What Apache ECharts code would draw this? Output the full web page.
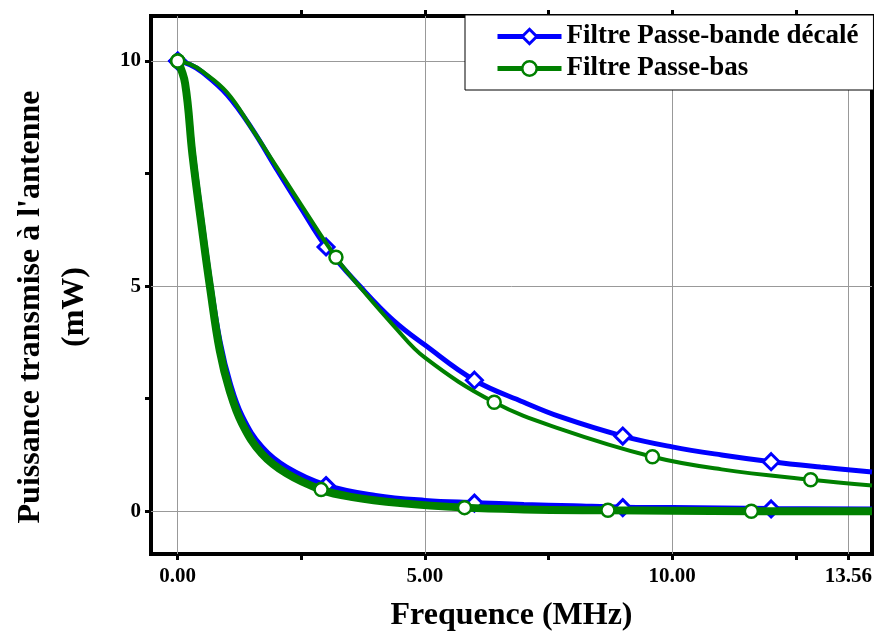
<!DOCTYPE html>
<html>
<head>
<meta charset="utf-8">
<script src="https://cdn.jsdelivr.net/npm/echarts@6/dist/echarts.min.js"></script>
<style>html,body{margin:0;padding:0;background:#fff}#c{width:877px;height:637px}</style>
</head>
<body>
<div id="c"></div>
<script>
// ---- data ----
const nameBlue = 'Filtre Passe-bande décalé';
const nameGreen = 'Filtre Passe-bas';

// Blue, upper curve
const blueUpperX = [0, 0.25, 0.5, 1, 1.5, 2, 2.5, 3, 3.7, 4.36, 5, 6, 7, 7.73, 9, 10, 11, 12, 13, 14.04];
const blueUpperY = [10, 9.92, 9.75, 9.25, 8.5, 7.6, 6.72, 5.87, 4.98, 4.24, 3.69, 2.91, 2.42, 2.1, 1.67, 1.43, 1.25, 1.1, 0.98, 0.87];
const blueUpperMarks = [0, 3, 6, 9, 12];

// Blue, lower curve
const blueLowerX = [0, 0.15, 0.3, 0.5, 0.65, 0.85, 1.05, 1.3, 1.7, 2.2, 3, 4, 5, 6, 7, 8, 9, 10, 12, 14.04];
const blueLowerY = [10, 9.5, 8.0, 6.3, 5.1, 3.75, 2.85, 2.1, 1.42, 0.97, 0.57, 0.34, 0.23, 0.18, 0.14, 0.11, 0.08, 0.07, 0.05, 0.04];
const blueLowerMarks = [0, 3, 6, 9, 12];

// Green, upper curve
const greenUpperX = [0, 0.25, 0.5, 1, 1.5, 2, 2.5, 3.2, 3.7, 4.36, 5, 6.4, 7.73, 9.6, 11, 12.8, 14.04];
const greenUpperY = [10, 9.93, 9.77, 9.3, 8.5, 7.65, 6.8, 5.64, 4.96, 4.13, 3.41, 2.42, 1.83, 1.21, 0.93, 0.7, 0.57];
const greenUpperMarks = [0, 3.2, 6.4, 9.6, 12.8];

// Green, lower curve
const greenLowerX = [0, 0.15, 0.3, 0.5, 0.65, 0.85, 1.05, 1.3, 1.7, 2.2, 2.9, 3.5, 4.5, 5.8, 7, 8.7, 10, 11.6, 14.04];
const greenLowerY = [10, 9.5, 7.9, 6.2, 5.0, 3.57, 2.68, 1.95, 1.28, 0.84, 0.48, 0.32, 0.18, 0.08, 0.04, 0.02, 0.01, 0.0, 0.0];
const greenLowerMarks = [0, 2.9, 5.8, 8.7, 11.6];

// ticks / labels
const xTickVals = [0, 2.5, 5, 7.5, 10, 12.5, 13.56];
const xTopTickVals = [2.5, 5, 7.5, 10, 12.5];
const xLabelVals = [0, 5, 10, 13.56];
const xGridVals = [0, 5, 10, 13.56];
const yTickVals = [0, 2.5, 5, 7.5, 10];
const yLabelVals = [0, 5, 10];
const yGridVals = [0, 5, 10];

const xTitle = 'Frequence (MHz)';
const yTitle = "Puissance transmise à l'antenne\n(mW)";

// ---- chart ----
const FONT = 'Liberation Serif';
const BLUE = '#0000ff';
const GREEN = '#008000';
const X_MIN = -0.54, X_MAX = 14.04, Y_MIN = -0.95, Y_MAX = 11.0;

function build(xs, ys, marks) {
  return xs.map((x, i) => {
    const m = marks.indexOf(x) >= 0;
    return m ? { value: [x, ys[i]] } : { value: [x, ys[i]], symbol: 'none' };
  });
}

function lineSeries(name, data, color, width, symbol, size, z) {
  return {
    name: name,
    type: 'line',
    data: data,
    smooth: 0.4,
    symbol: symbol,
    symbolSize: size,
    showSymbol: true,
    showAllSymbol: true,
    z: z,
    lineStyle: { color: color, width: width },
    itemStyle: { color: '#fff', borderColor: color, borderWidth: symbol === 'diamond' ? 3 : 2.5 },
    emphasis: { disabled: true },
    animation: false
  };
}

const tickStyle = { show: true, inside: false, length: 6, lineStyle: { color: '#000', width: 3 } };
const gridLine = { show: true, lineStyle: { color: '#999', width: 1 } };
const labelFont = { fontFamily: FONT, fontWeight: 'bold', fontSize: 21, color: '#000' };
const noLine = { show: false, onZero: false };

const chart = echarts.init(document.getElementById('c'), null, { renderer: 'canvas' });
chart.setOption({
  animation: false,
  backgroundColor: '#fff',
  grid: { left: 151, right: 5, top: 16, bottom: 83, show: true, borderColor: '#000', borderWidth: 4, backgroundColor: 'transparent' },
  legend: {
    data: [
      { name: nameBlue, itemStyle: { borderWidth: 3 } },
      { name: nameGreen, itemStyle: { borderWidth: 2.5 } }
    ],
    orient: 'vertical',
    left: 465, top: 15,
    padding: [8, 15, 8, 30],
    itemGap: 5,
    itemWidth: 64,
    itemHeight: 18,
    itemTextGap: 6,
    lineStyle: { width: 5 },
    backgroundColor: '#fff',
    borderColor: '#000',
    borderWidth: 1,
    textStyle: { fontFamily: FONT, fontWeight: 'bold', fontSize: 27, color: '#000' }
  },
  xAxis: [
    {
      type: 'value', position: 'bottom', min: X_MIN, max: X_MAX,
      axisLine: noLine,
      axisTick: Object.assign({ customValues: xTickVals }, tickStyle),
      axisLabel: Object.assign({ customValues: xLabelVals, margin: 12, formatter: v => v.toFixed(2) }, labelFont),
      splitLine: { show: false },
      name: xTitle, nameLocation: 'middle', nameGap: 46,
      nameTextStyle: { fontFamily: FONT, fontWeight: 'bold', fontSize: 32, color: '#000' }
    },
    {
      type: 'value', position: 'top', min: X_MIN, max: X_MAX,
      axisLine: noLine,
      axisTick: Object.assign({ customValues: xTopTickVals }, tickStyle),
      axisLabel: { show: false },
      splitLine: { show: false }
    },
    {
      type: 'value', position: 'bottom', min: X_MIN, max: X_MAX,
      axisLine: noLine,
      axisTick: { show: false, customValues: xGridVals },
      axisLabel: { show: false, customValues: xGridVals },
      splitLine: gridLine
    }
  ],
  yAxis: [
    {
      type: 'value', position: 'left', min: Y_MIN, max: Y_MAX,
      axisLine: noLine,
      axisTick: Object.assign({ customValues: yTickVals }, tickStyle),
      axisLabel: Object.assign({ customValues: yLabelVals, margin: 10 }, labelFont),
      splitLine: { show: false },
      name: yTitle, nameLocation: 'middle', nameGap: 54, nameRotate: 90,
      nameTextStyle: { fontFamily: FONT, fontWeight: 'bold', fontSize: 32, lineHeight: 44, color: '#000', align: 'center', padding: [0, 44, 0, 0] }
    },
    {
      type: 'value', position: 'left', min: Y_MIN, max: Y_MAX,
      axisLine: noLine,
      axisTick: { show: false, customValues: yGridVals },
      axisLabel: { show: false, customValues: yGridVals },
      splitLine: gridLine
    }
  ],
  series: [
    lineSeries(nameBlue, build(blueLowerX, blueLowerY, blueLowerMarks), BLUE, 6, 'diamond', 16, 2),
    lineSeries(nameBlue, build(blueUpperX, blueUpperY, blueUpperMarks), BLUE, 5, 'diamond', 16, 2),
    lineSeries(nameGreen, build(greenLowerX, greenLowerY, greenLowerMarks), GREEN, 8, 'circle', 13, 3),
    lineSeries(nameGreen, build(greenUpperX, greenUpperY, greenUpperMarks), GREEN, 4, 'circle', 13, 3)
  ]
});
</script>
</body>
</html>
